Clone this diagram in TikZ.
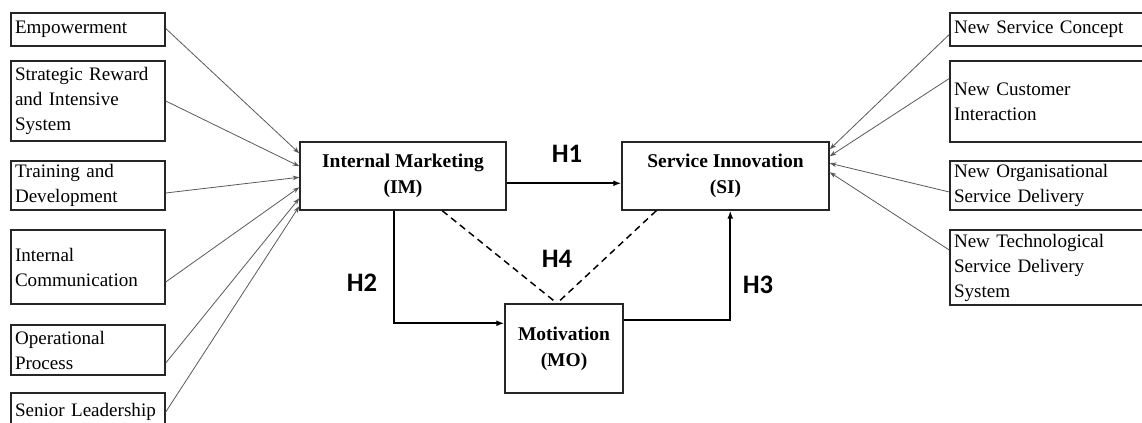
\documentclass[tikz,border=0pt]{standalone}
\usepackage{fontspec}
\setmainfont{Liberation Serif}
\newfontfamily\hfont{Carlito}
\usetikzlibrary{arrows.meta,calc}
\begin{document}
\begin{tikzpicture}[x=0.75pt,y=-0.75pt,
  box/.style={draw=black!85, line width=1.1pt, rectangle, inner ysep=0pt, inner xsep=3pt,
    font=\fontsize{14.3}{18.75}\selectfont},
  lbox/.style={box, text width=109.5pt, align=left},
  rbox/.style={box, text width=144pt, align=left},
  cbox/.style={box, align=center, font=\fontsize{14.6}{19.5}\selectfont\bfseries},
  hlab/.style={font=\hfont\bfseries\fontsize{20}{24}\selectfont, inner sep=0pt},
  conn/.style={draw=black!65, line width=0.6pt, -{Stealth[length=5pt,width=3.5pt]}},
  mainarrow/.style={line width=1.3pt, -{Latex[length=6pt,width=4.5pt]}},
  dashline/.style={line width=1.1pt, dash pattern=on 5pt off 3.5pt}]
\useasboundingbox (0,0) rectangle (1142,423);
\clip (0,0) rectangle (1142,423);

% left boxes
\node[lbox, minimum height=24.75pt] (emp) at (88,29.5) {Empowerment};
\node[lbox, minimum height=60pt] (srs) at (88,101) {Strategic Reward\\and Intensive\\System};
\node[lbox, minimum height=36.75pt] (td) at (88,185.5) {Training and\\Development};
\node[lbox, minimum height=55.5pt] (ic) at (88,267) {Internal\\Communication};
\node[lbox, minimum height=37.5pt] (op) at (88,350) {Operational\\Process};
\node[lbox, minimum height=28.5pt] (sl) at (88,412) {Senior Leadership};

% right boxes
\node[rbox, minimum height=24.75pt] (nsc) at (1050,29.5) {New Service Concept};
\node[rbox, minimum height=60.75pt] (nci) at (1050,101.5) {New Customer\\Interaction};
\node[rbox, minimum height=36.75pt] (nosd) at (1050,185.5) {New Organisational\\Service Delivery};
\node[rbox, minimum height=56.25pt] (ntsd) at (1050,267.5) {New Technological\\Service Delivery\\System};

% central boxes
\node[cbox, minimum width=154.5pt, minimum height=51pt] (im) at (403,176) {Internal Marketing\\(IM)};
\node[cbox, minimum width=155.25pt, minimum height=51pt] (si) at (725.5,176) {Service Innovation\\(SI)};
\node[cbox, minimum width=88.5pt, minimum height=66.75pt] (mo) at (564,348.5) {Motivation\\(MO)};

% hypothesis labels
\node[hlab] (h1) at (567,154) {H1};
\node[hlab] (h2) at (362,283) {H2};
\node[hlab] (h3) at (758,285) {H3};
\node[hlab] (h4) at (557,259) {H4};

% left connectors
\draw[conn] ($(emp.east)+(0,-1)$) -- ($(im.north west)+(0,12)$);
\draw[conn] (srs.east) -- ($(im.north west)+(0,25)$);
\draw[conn] ($(td.east)+(0,7.5)$) -- ($(im.north west)+(0,36)$);
\draw[conn] ($(ic.east)+(0,15)$) -- ($(im.north west)+(0,46)$);
\draw[conn] ($(op.east)+(0,13)$) -- ($(im.north west)+(0,57)$);
\draw[conn] (sl.east) -- ($(im.north west)+(0,65)$);

% right connectors
\draw[conn] ($(nsc.west)+(0,5)$) -- ($(si.north east)+(0,8)$);
\draw[conn] ($(nci.west)+(0,-23)$) -- ($(si.north east)+(0,15)$);
\draw[conn] ($(nosd.west)+(0,6.5)$) -- ($(si.north east)+(0,22)$);
\draw[conn] ($(ntsd.west)+(0,-17.5)$) -- ($(si.north east)+(0,31)$);

% main paths
\coordinate (h1s) at ($(im.north east)+(0,42)$);
\draw[mainarrow] (h1s) -- (h1s -| si.west);
\draw[mainarrow] ($(im.south)+(-9,0)$) |- ($(mo.north west)+(0,20)$);
\draw[mainarrow] ($(mo.north east)+(0,17)$) -| ($(si.south west)+(109,0)$);

% dashed mediation
\coordinate (moj) at ($(mo.north)+(-7,0)$);
\draw[dashline] ($(im.south west)+(143,0)$) -- (moj);
\draw[dashline] ($(si.south west)+(35,0)$) -- (moj);
\end{tikzpicture}
\end{document}
